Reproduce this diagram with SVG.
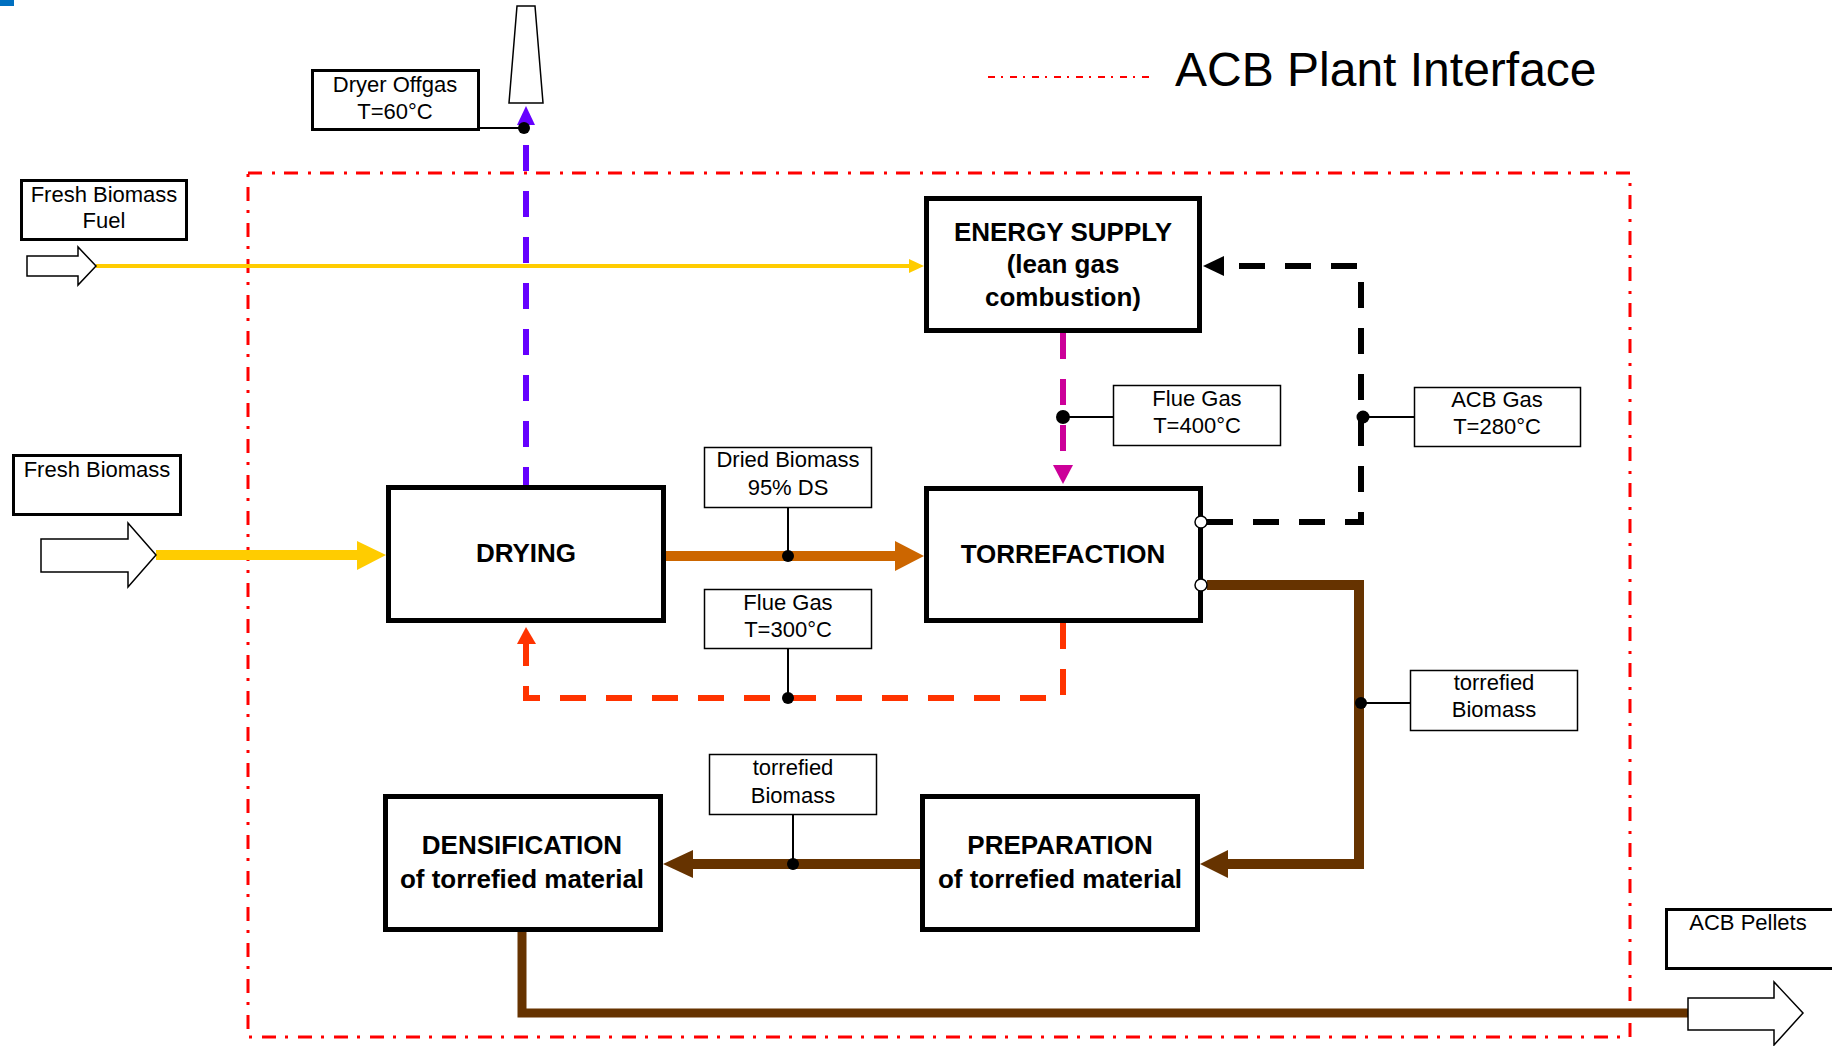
<svg xmlns="http://www.w3.org/2000/svg" width="1832" height="1046" viewBox="0 0 1832 1046">
<style>
.node{fill:#fff;stroke:#000;stroke-width:5}
.lbl{fill:#fff;stroke:#000;stroke-width:1.5}
.lblk{fill:#fff;stroke:#000;stroke-width:3}
.t{font-family:"Liberation Sans",Arial,sans-serif;font-size:22px;fill:#000;text-anchor:middle}
.b{font-family:"Liberation Sans",Arial,sans-serif;font-size:26px;font-weight:bold;fill:#000;text-anchor:middle}
.lead{stroke:#000;stroke-width:2;fill:none}
.dot{fill:#000}
.flow{fill:none;stroke-linejoin:miter}
.dash{stroke-dasharray:26 20;stroke-width:6}
.io{fill:#fff;stroke:#000;stroke-width:1.5}
</style>
<rect x="0" y="0" width="14" height="6" fill="#0070C0"/>
<g id="boundary">
<rect x="248" y="173" width="1382" height="864" fill="none" stroke="#FF0000" stroke-width="3" stroke-dasharray="14 10 3 9"/>
</g>
<g id="legend">
<line x1="988" y1="77" x2="1150" y2="77" stroke="#FF0000" stroke-width="2" stroke-dasharray="7 6 2 7"/>
<text x="1175" y="86" font-family="Liberation Sans, Arial, sans-serif" font-size="48" fill="#000">ACB Plant Interface</text>
</g>
<g id="connectors">
<line x1="96" y1="266" x2="910" y2="266" stroke="#FFCC00" stroke-width="4"/>
<polygon points="909,259 924,266 909,273" fill="#FFCC00"/>
<line x1="156" y1="555" x2="358" y2="555" stroke="#FFCC00" stroke-width="10"/>
<polygon points="357,541 386,555 357,570" fill="#FFCC00"/>
<line x1="526" y1="485" x2="526" y2="124" class="flow dash" stroke="#6600FF" stroke-dashoffset="8"/>
<polygon points="517,125 526,106 535,125" fill="#6600FF"/>
<line x1="666" y1="556" x2="896" y2="556" stroke="#CC6600" stroke-width="10"/>
<polygon points="895,541 924,556 895,571" fill="#CC6600"/>
<line x1="1063" y1="333" x2="1063" y2="465" class="flow dash" stroke="#CC0099"/>
<polygon points="1053,465 1073,465 1063,484" fill="#CC0099"/>
<polyline points="1063,623 1063,698 526,698 526,644" class="flow dash" stroke="#FF3300"/>
<polygon points="517,644 526,627 536,644" fill="#FF3300"/>
<polyline points="1207,522 1361,522 1361,266 1224,266" class="flow dash" stroke="#000"/>
<polygon points="1224,256 1203,266 1224,276" fill="#000"/>
<polyline points="1207,585 1359,585 1359,864 1228,864" class="flow" stroke="#663300" stroke-width="10"/>
<polygon points="1228,850 1200,864 1228,878" fill="#663300"/>
<line x1="920" y1="864" x2="692" y2="864" stroke="#663300" stroke-width="10"/>
<polygon points="693,850 663,864 693,878" fill="#663300"/>
<polyline points="522,932 522,1013 1690,1013" class="flow" stroke="#663300" stroke-width="9"/>
<line x1="480" y1="128" x2="524" y2="128" class="lead"/>
<circle cx="524" cy="128" r="6" class="dot"/>
<line x1="1063" y1="417" x2="1113" y2="417" class="lead"/>
<circle cx="1063" cy="417" r="7" class="dot"/>
<line x1="1363" y1="417" x2="1414" y2="417" class="lead"/>
<circle cx="1363" cy="417" r="6.5" class="dot"/>
<line x1="788" y1="508" x2="788" y2="556" class="lead"/>
<circle cx="788" cy="556" r="6" class="dot"/>
<line x1="788" y1="649" x2="788" y2="698" class="lead"/>
<circle cx="788" cy="698" r="6" class="dot"/>
<line x1="1361" y1="703" x2="1410" y2="703" class="lead"/>
<circle cx="1361" cy="703" r="6" class="dot"/>
<line x1="793" y1="815" x2="793" y2="864" class="lead"/>
<circle cx="793" cy="864" r="6" class="dot"/>
</g>
<g id="chimney">
<polygon points="517,6 535,6 543,103 509,103" class="io"/>
</g>
<g id="in-fuel-arrow">
<polygon points="27,256 78,256 78,247 96,266 78,285 78,276 27,276" class="io"/>
</g>
<g id="in-biomass-arrow">
<polygon points="41,539 128,539 128,523 156,555 128,587 128,572 41,572" class="io"/>
</g>
<g id="out-pellets-arrow">
<polygon points="1688,998 1774,998 1774,982 1803,1013 1774,1045 1774,1030 1688,1030" class="io"/>
</g>
<g id="drying">
<rect x="388.5" y="487.5" width="275" height="133" class="node"/>
<text x="526" y="562" class="b">DRYING</text>
</g>
<g id="energy-supply">
<rect x="926.5" y="198.5" width="273" height="132" class="node"/>
<text x="1063" y="241" class="b">ENERGY SUPPLY</text>
<text x="1063" y="273" class="b">(lean gas</text>
<text x="1063" y="306" class="b">combustion)</text>
</g>
<g id="torrefaction">
<rect x="926.5" y="488.5" width="274" height="132" class="node"/>
<text x="1063" y="563" class="b">TORREFACTION</text>
<circle cx="1201" cy="522" r="6" fill="#fff" stroke="#000" stroke-width="1.5"/>
<circle cx="1201" cy="585" r="6" fill="#fff" stroke="#000" stroke-width="1.5"/>
</g>
<g id="densification">
<rect x="385.5" y="796.5" width="275" height="133" class="node"/>
<text x="522" y="854" class="b">DENSIFICATION</text>
<text x="522" y="888" class="b">of torrefied material</text>
</g>
<g id="preparation">
<rect x="922.5" y="796.5" width="275" height="133" class="node"/>
<text x="1060" y="854" class="b">PREPARATION</text>
<text x="1060" y="888" class="b">of torrefied material</text>
</g>
<g id="label-dryer-offgas">
<rect x="312.5" y="70.5" width="166" height="59" class="lblk"/>
<text x="395" y="92" class="t">Dryer Offgas</text>
<text x="395" y="119" class="t">T=60°C</text>
</g>
<g id="label-fresh-biomass-fuel">
<rect x="21.5" y="180.5" width="165" height="59" class="lblk"/>
<text x="104" y="202" class="t">Fresh Biomass</text>
<text x="104" y="228" class="t">Fuel</text>
</g>
<g id="label-fresh-biomass">
<rect x="13.5" y="455.5" width="167" height="59" class="lblk"/>
<text x="97" y="477" class="t">Fresh Biomass</text>
</g>
<g id="label-dried-biomass">
<rect x="704.5" y="447.5" width="167" height="60" class="lbl"/>
<text x="788" y="467" class="t">Dried Biomass</text>
<text x="788" y="495" class="t">95% DS</text>
</g>
<g id="label-flue-gas-400">
<rect x="1113.5" y="385.5" width="167" height="60" class="lbl"/>
<text x="1197" y="406" class="t">Flue Gas</text>
<text x="1197" y="433" class="t">T=400°C</text>
</g>
<g id="label-flue-gas-300">
<rect x="704.5" y="589.5" width="167" height="59" class="lbl"/>
<text x="788" y="610" class="t">Flue Gas</text>
<text x="788" y="637" class="t">T=300°C</text>
</g>
<g id="label-acb-gas">
<rect x="1414.5" y="387.5" width="166" height="59" class="lbl"/>
<text x="1497" y="407" class="t">ACB Gas</text>
<text x="1497" y="434" class="t">T=280°C</text>
</g>
<g id="label-torrefied-right">
<rect x="1410.5" y="670.5" width="167" height="60" class="lbl"/>
<text x="1494" y="690" class="t">torrefied</text>
<text x="1494" y="717" class="t">Biomass</text>
</g>
<g id="label-torrefied-mid">
<rect x="709.5" y="754.5" width="167" height="60" class="lbl"/>
<text x="793" y="775" class="t">torrefied</text>
<text x="793" y="803" class="t">Biomass</text>
</g>
<g id="label-acb-pellets">
<rect x="1666.5" y="909.5" width="170" height="59" class="lblk"/>
<text x="1748" y="930" class="t">ACB Pellets</text>
</g>
</svg>
